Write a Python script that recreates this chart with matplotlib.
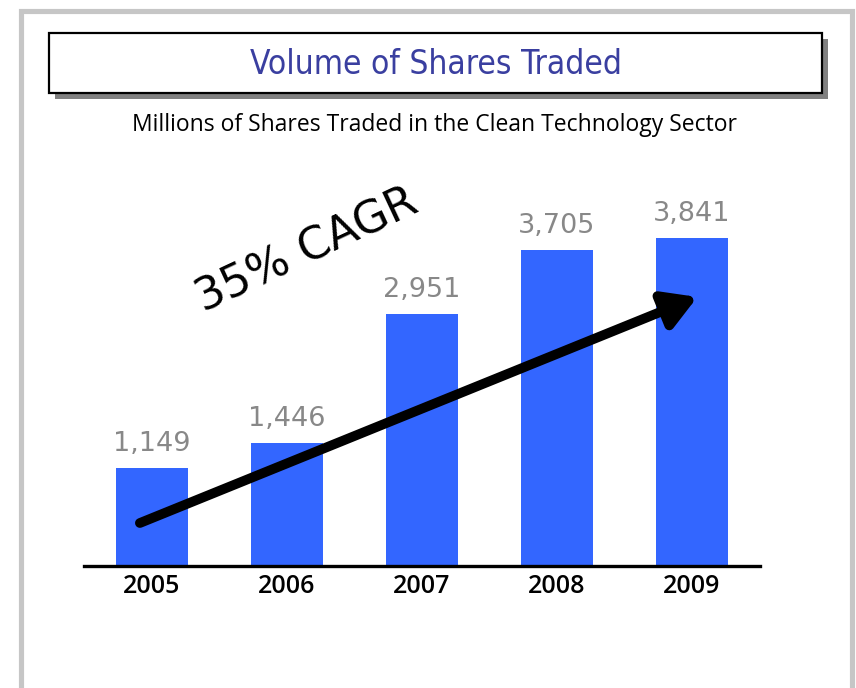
import matplotlib.pyplot as plt
from matplotlib.patches import Rectangle

years = ["2005", "2006", "2007", "2008", "2009"]
shares = [1149, 1446, 2951, 3705, 3841]
value_labels = ["1,149", "1,446", "2,951", "3,705", "3,841"]

title = "Volume of Shares Traded"
subtitle = "Millions of Shares Traded in the Clean Technology Sector"
cagr_label = "35% CAGR"

W, H = 856, 688
fig = plt.figure(figsize=(W / 100, H / 100), dpi=100)

def fx(px):
    return px / W

def fy(py):
    return 1 - py / H

# outer gray frame
fig.patches.append(Rectangle((fx(20.5), fy(720)), fx(852) - fx(20.5), fy(10.5) - fy(720),
                             transform=fig.transFigure, fill=False, edgecolor="#c6c6c6",
                             linewidth=3.7, zorder=0))
# title box shadow + box
fig.patches.append(Rectangle((fx(55), fy(99)), fx(828) - fx(55), fy(39) - fy(99),
                             transform=fig.transFigure, facecolor="#808080",
                             edgecolor="none", zorder=1))
fig.patches.append(Rectangle((fx(49), fy(93)), fx(822) - fx(49), fy(33) - fy(93),
                             transform=fig.transFigure, facecolor="white",
                             edgecolor="black", linewidth=1.6, zorder=2))

fig.text(fx(436), fy(64), title, ha="center", va="center", fontsize=24,
         color="#3a3fa0", family="DejaVu Sans", fontstretch="condensed", zorder=3)
fig.text(fx(434), fy(125), subtitle, ha="center", va="center", fontsize=16.5,
         color="black", family="Open Sans")

# bar chart area: baseline at y=566, x from 84 to 760
ax = fig.add_axes([fx(84), fy(566), fx(760) - fx(84), fy(160) - fy(566)])
x = range(len(years))
ax.bar(x, shares, width=0.533, color="#3366ff", zorder=2)
ax.set_xlim(-0.504, 4.504)
ax.set_ylim(0, (566 - 160) / 0.0853)

for sp in ["top", "right", "left"]:
    ax.spines[sp].set_visible(False)
ax.spines["bottom"].set_linewidth(2.4)
ax.spines["bottom"].set_color("black")
ax.set_yticks([])
ax.set_xticks(list(x))
ax.set_xticklabels(years, fontsize=18, family="Open Sans", fontweight="semibold")
ax.tick_params(axis="x", length=0, pad=6)

for xi, v, lab in zip(x, shares, value_labels):
    ax.annotate(lab, (xi, v), xytext=(0, 8), textcoords="offset points",
                ha="center", va="bottom", fontsize=19.5, color="#888888",
                family="DejaVu Sans")

# growth arrow
ax.annotate("", xy=(4.04, 3154), xytext=(-0.09, 504),
            arrowprops=dict(arrowstyle="-|>,head_length=0.65,head_width=0.38",
                            mutation_scale=30, lw=7, color="black",
                            shrinkA=0, shrinkB=0), zorder=4)

ax.text(1.15, 3700, cagr_label, rotation=25, rotation_mode="anchor",
        ha="center", va="center", fontsize=32, family="DejaVu Sans", color="black")

fig.savefig("out.png", dpi=100)
